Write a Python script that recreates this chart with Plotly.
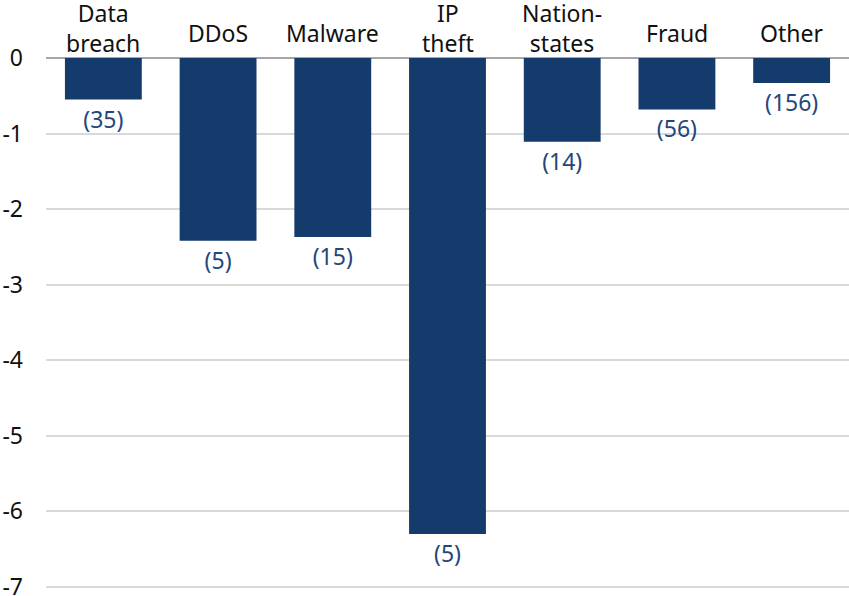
import plotly.graph_objects as go

# Incident categories, average change and number of incidents per category
categories = ["Data<br>breach", "DDoS", "Malware", "IP<br>theft", "Nation-<br>states", "Fraud", "Other"]
values = [-0.55, -2.42, -2.37, -6.30, -1.11, -0.68, -0.33]
counts = [35, 5, 15, 5, 14, 56, 156]
y_ticks = [0, -1, -2, -3, -4, -5, -6, -7]

BAR = "#143B6B"
LABEL = "#24477A"
FONT = "Noto Sans"
SIZE = 23

fig = go.Figure()
fig.add_trace(go.Bar(
    x=categories,
    y=values,
    marker=dict(color=BAR, line=dict(width=0)),
    text=[f"({c})" for c in counts],
    textposition="outside",
    textfont=dict(family=FONT, size=SIZE, color=LABEL),
    cliponaxis=False,
    showlegend=False,
))

# category names above the zero line
for cat in categories:
    lines = cat.count("<br>") + 1
    fig.add_annotation(
        x=cat, xref="x", y=1, yref="paper",
        text=cat, showarrow=False,
        yanchor="middle", yshift=30 if lines == 2 else 25,
        font=dict(family=FONT, size=SIZE, color="#111111"),
    )

fig.update_layout(
    width=849, height=596,
    margin=dict(l=46, r=0, t=58, b=0, autoexpand=False),
    paper_bgcolor="white", plot_bgcolor="white",
    bargap=0.33,
    font=dict(family=FONT, size=SIZE, color="#111111"),
)
fig.update_xaxes(showticklabels=False, showgrid=False, showline=False,
                 zeroline=False, automargin=False)
fig.update_yaxes(
    range=[-7.12, 0],
    tickvals=y_ticks,
    ticktext=[str(v) for v in y_ticks],
    showgrid=True, gridcolor="#D9D9D9", gridwidth=2,
    zeroline=True, zerolinecolor="#A6A6A6", zerolinewidth=2,
    showline=False,
    automargin=False,
    ticklabelstandoff=22,
    ticklabeloverflow="allow",
    tickfont=dict(family=FONT, size=SIZE, color="#111111"),
)

fig.write_html("out.html")
